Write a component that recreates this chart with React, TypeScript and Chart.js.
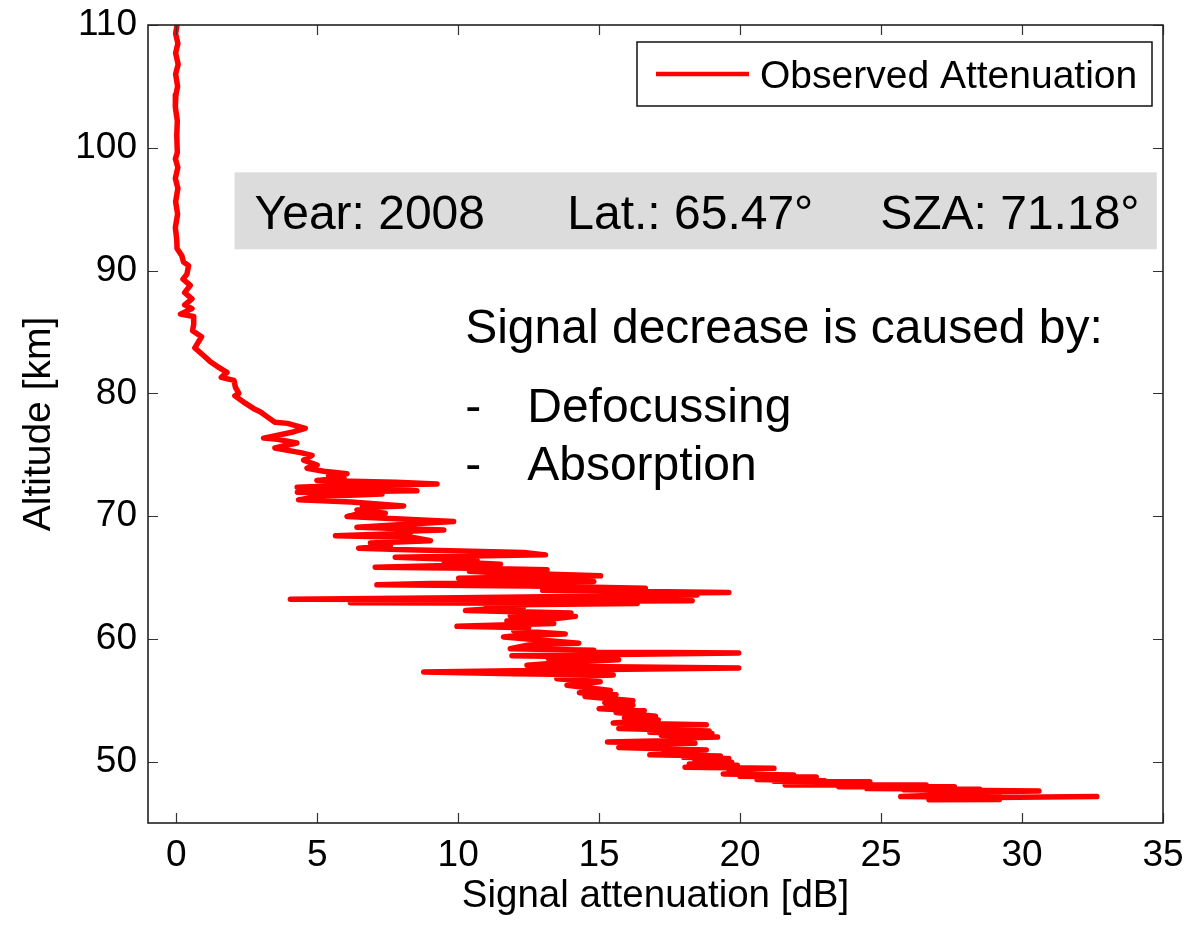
import { useEffect, useRef } from "react";
import { Chart, registerables } from "chart.js";

Chart.register(...registerables);

// ---- Data ----
const attenuation = [
  // 110 -> 86 km
  0.03, -0.02, 0.06, -0.02, 0.07, -0.02, 0.05, -0.01, -0.03, 0.04, 0.02, 0.04, -0.03, 0.06, -0.03, 0.06,
  -0.02, 0.05, -0.03, 0.02, 0.03, 0.2, 0.26, 0.44, 0.38, 0.24, 0.5, 0.3, 0.56, 0.3, 0.56, 0.15, 0.62,
  // 86 -> 74 km
  0.62, 0.58, 0.9, 0.82, 0.66, 0.96, 1.2, 1.45, 1.8, 1.6, 2.05, 2.1, 2.22, 2.08, 2.45, 2.75, 2.98, 3.22,
  3.5, 3.95, 4.58, 4.15, 3.1, 3.6, 4.28, 3.5, 4.45, 4.82, 4.52, 5.0, 4.64,
  // 74 -> 56 km
  5.23, 6.06, 5.4, 5.95, 4.99, 7.8, 9.25, 6.0, 4.29, 7.6, 8.54, 4.3, 7.3, 5.0, 4.34, 6.2, 8.07, 6.6,
  7.1, 6.41, 7.42, 6.3, 6.06, 7.6, 9.84, 8.6, 6.41, 9.49, 7.8, 8.3, 5.65, 8.4, 9.02, 6.89, 7.6, 6.47,
  8.19, 12.33, 13.1, 7.77, 10.67, 9.5, 11.5, 7.06, 10.5, 13.15, 10.4, 11.2, 15.05, 10.02, 14.81, 9.0,
  7.12, 12.5, 16.64, 13.0, 19.6, 15.0, 18.47, 10.0, 4.05, 12.0, 18.3, 8.5, 6.18, 16.35, 11.0, 12.33,
  10.26, 14.0, 11.85, 14.16, 13.39, 11.73, 13.39, 9.96, 12.5, 11.97, 13.8, 12.2, 11.61, 12.68, 14.28,
  12.5, 11.85, 14.81, 13.6, 19.95, 11.91, 15.6, 13.2, 15.69, 13.86, 12.44, 14.5, 19.95, 15.2, 8.78,
  11.97, 15.5, 14.33, 13.5, 15.04, 13.86,
  // 56 -> 47 km
  15.4, 14.3, 15.6, 14.5, 16.2, 15.2, 16.2, 15.0, 16.6, 15.6, 17.0, 15.9, 17.1, 15.5, 18.8, 16.2, 17.5,
  15.7, 18.9, 16.8, 19.0, 17.2, 19.2, 17.6, 18.2, 15.3, 18.4, 16.8, 17.6, 15.7, 18.8, 17.3, 18.6, 16.8,
  19.3, 18.0, 19.6, 18.4, 19.7, 18.2, 19.9, 18.05, 21.2, 19.6, 20.5, 19.4, 21.9, 20.0, 22.7, 20.6, 23.0,
  21.2, 24.6, 22.3, 23.6, 21.6, 26.6, 23.5, 27.6, 24.5, 28.5, 25.8, 30.6, 27.5, 29.2, 25.7, 28.5, 26.7,
  29.2, 28.0, 32.65,
];

const altitude = [
  // 110 -> 86 km
  110, 109.3, 108.5, 107.7, 106.8, 106.0, 105.0, 104.3, 103.3, 102.2, 101.0, 99.6, 99.1, 98.4, 97.5, 96.7,
  95.6, 94.6, 93.5, 92.5, 91.8, 91.2, 90.7, 90.4, 89.7, 89.3, 88.8, 88.2, 87.7, 87.2, 86.9, 86.45, 86.25,
  // 86 -> 74 km
  85.6, 85.1, 84.6, 84.3, 83.7, 83.1, 82.6, 82.2, 81.7, 81.3, 81.05, 80.5, 80.0, 79.8, 79.2, 78.75, 78.5, 78.1,
  77.65, 77.55, 77.15, 76.85, 76.35, 76.25, 75.95, 75.55, 75.15, 74.95, 74.55, 74.15, 73.9,
  // 74 -> 56 km
  73.65, 73.45, 73.3, 73.1, 72.9, 72.75, 72.62, 72.5, 72.35, 72.2, 72.06, 71.95, 71.8, 71.6, 71.32, 71.15, 70.83, 70.7,
  70.6, 70.5, 70.23, 70.1, 69.96, 69.8, 69.55, 69.4, 69.09, 68.87, 68.75, 68.6, 68.4, 68.25, 68.0, 67.8, 67.6, 67.38,
  67.25, 67.03, 66.84, 66.65, 66.4, 66.3, 66.08, 65.83, 65.75, 65.62, 65.5, 65.4, 65.13, 64.94, 64.67, 64.5,
  64.4, 64.3, 64.12, 63.95, 63.77, 63.7, 63.58, 63.35, 63.23, 63.2, 63.1, 63.0, 62.95, 62.88, 62.75, 62.63,
  62.3, 62.1, 61.9, 61.83, 61.64, 61.45, 61.25, 61.02, 60.9, 60.65, 60.4, 60.3, 60.15, 59.95, 59.65,
  59.5, 59.2, 59.07, 58.95, 58.85, 58.63, 58.5, 58.4, 58.3, 58.1, 57.85, 57.75, 57.62, 57.5, 57.3,
  57.15, 57.05, 56.95, 56.75, 56.5, 56.22,
  // 56 -> 47 km
  55.8, 55.6, 55.45, 55.3, 54.95, 54.8, 54.6, 54.3, 54.15, 54.0, 53.7, 53.55, 53.4, 53.15, 53.0, 52.9, 52.8,
  52.7, 52.5, 52.4, 52.3, 52.15, 52.0, 51.9, 51.75, 51.6, 51.5, 51.35, 51.25, 51.15, 50.95, 50.85, 50.7, 50.55,
  50.45, 50.35, 50.25, 50.1, 49.95, 49.8, 49.7, 49.55, 49.45, 49.3, 49.15, 49.0, 48.9, 48.8, 48.75, 48.55, 48.45,
  48.4, 48.35, 48.25, 48.2, 48.1, 48.1, 47.95, 47.95, 47.8, 47.75, 47.7, 47.6, 47.5, 47.45, 47.15, 47.1, 46.9,
  46.92, 47.05, 47.15,
];

const xTickValues = [0, 5, 10, 15, 20, 25, 30, 35];
const yTickValues = [50, 60, 70, 80, 90, 100, 110];

const seriesLabel = "Observed Attenuation";
const xTitle = "Signal attenuation [dB]";
const yTitle = "Altitude [km]";
const infoTexts = ["Year: 2008", "Lat.: 65.47°", "SZA: 71.18°"];
const causeTitle = "Signal decrease is caused by:";
const causeItems = ["Defocussing", "Absorption"];

// ---- Layout / style (positions in data units, like MATLAB text) ----
const FONT = '"Liberation Sans", Arial, Helvetica, sans-serif';
const X_RANGE = [-1, 35];
const Y_RANGE = [45, 110];
const infoBox = { x0: 2.07, x1: 34.78, top: 98.0, bottom: 91.73 };
const infoTextX = [2.78, 13.87, 24.97];
const infoBaseline = 93.36;
const causeX = 10.25;
const causeItemX = 12.45;
const causeBaselines = [84.06, 77.67, 72.95];

const overlayPlugin = {
  id: "overlay",
  afterDatasetsDraw(chart: any) {
    const { ctx, scales } = chart;
    const px = (v: number) => scales.x.getPixelForValue(v);
    const py = (v: number) => scales.y.getPixelForValue(v);
    ctx.save();
    ctx.fillStyle = "#dcdcdc";
    const bx0 = px(infoBox.x0), bx1 = px(infoBox.x1);
    const by0 = py(infoBox.top), by1 = py(infoBox.bottom);
    ctx.fillRect(bx0, by0, bx1 - bx0, by1 - by0);
    ctx.fillStyle = "#000";
    ctx.textAlign = "left";
    ctx.textBaseline = "alphabetic";
    ctx.font = `48px ${FONT}`;
    infoTexts.forEach((t, i) => ctx.fillText(t, px(infoTextX[i]), py(infoBaseline)));
    ctx.fillText(causeTitle, px(causeX), py(causeBaselines[0]));
    causeItems.forEach((t, i) => {
      ctx.fillText("-", px(causeX), py(causeBaselines[i + 1]));
      ctx.fillText(t, px(causeItemX), py(causeBaselines[i + 1]));
    });
    ctx.restore();
  },
  afterDraw(chart: any) {
    const { ctx, chartArea: a, scales } = chart;
    ctx.save();
    ctx.strokeStyle = "#333";
    ctx.lineWidth = 1.2;
    const TL = 10;
    ctx.beginPath();
    xTickValues.forEach((v) => {
      const x = Math.round(scales.x.getPixelForValue(v)) + 0.5;
      ctx.moveTo(x, a.bottom);
      ctx.lineTo(x, a.bottom - TL);
      ctx.moveTo(x, a.top);
      ctx.lineTo(x, a.top + TL);
    });
    yTickValues.forEach((v) => {
      const y = Math.round(scales.y.getPixelForValue(v)) + 0.5;
      ctx.moveTo(a.left, y);
      ctx.lineTo(a.left + TL, y);
      ctx.moveTo(a.right, y);
      ctx.lineTo(a.right - TL, y);
    });
    ctx.stroke();
    ctx.strokeStyle = "#222";
    ctx.lineWidth = 1.6;
    ctx.strokeRect(a.left, a.top, a.right - a.left, a.bottom - a.top);

    // legend
    const lw = 515, lh = 64;
    const lx = a.right - 11 - lw;
    const ly = a.top + 17;
    ctx.fillStyle = "#fff";
    ctx.fillRect(lx, ly, lw, lh);
    ctx.strokeStyle = "#111";
    ctx.lineWidth = 1.5;
    ctx.strokeRect(lx, ly, lw, lh);
    const cy = ly + lh / 2;
    ctx.strokeStyle = "#ff0000";
    ctx.lineWidth = 4.5;
    ctx.beginPath();
    ctx.moveTo(lx + 19, cy);
    ctx.lineTo(lx + 112, cy);
    ctx.stroke();
    ctx.fillStyle = "#000";
    ctx.font = `39px ${FONT}`;
    ctx.textAlign = "left";
    ctx.textBaseline = "alphabetic";
    ctx.fillText(seriesLabel, lx + 123, cy + 14);

    // axis titles
    ctx.font = `38.5px ${FONT}`;
    ctx.textAlign = "center";
    ctx.fillText(xTitle, (a.left + a.right) / 2, 907);
    ctx.save();
    ctx.translate(50, (a.top + a.bottom) / 2);
    ctx.rotate(-Math.PI / 2);
    ctx.font = `39px ${FONT}`;
    ctx.fillText(yTitle, 0, 0);
    ctx.restore();
    ctx.restore();
  },
};

export default function App() {
  const ref = useRef<HTMLCanvasElement | null>(null);
  useEffect(() => {
    document.body.style.margin = "0";
    const canvas = ref.current;
    if (!canvas) return;
    const points = attenuation.map((x, i) => ({ x, y: altitude[i] }));
    const chart = new Chart(canvas, {
      type: "scatter",
      data: {
        datasets: [
          {
            label: seriesLabel,
            data: points,
            showLine: true,
            borderColor: "#ff0000",
            backgroundColor: "#ff0000",
            borderWidth: 5.5,
            pointRadius: 0,
            pointHoverRadius: 0,
            tension: 0,
            borderJoinStyle: "round",
            borderCapStyle: "round",
            fill: false,
          } as any,
        ],
      },
      options: {
        responsive: false,
        animation: false,
        devicePixelRatio: 1,
        events: [],
        layout: { padding: { left: 0, top: 25, right: 37, bottom: 0 } },
        plugins: {
          legend: { display: false },
          tooltip: { enabled: false },
          title: { display: false },
        },
        scales: {
          x: {
            type: "linear",
            min: X_RANGE[0],
            max: X_RANGE[1],
            grid: { display: false, drawTicks: false },
            border: { display: false },
            ticks: {
              color: "#000",
              font: { family: FONT, size: 37 },
              padding: 11,
              maxRotation: 0,
              autoSkip: false,
            },
            afterBuildTicks: (s: any) => {
              s.ticks = xTickValues.map((v) => ({ value: v }));
            },
            afterFit: (s: any) => {
              s.height = 102;
              s.paddingLeft = 0;
              s.paddingRight = 0;
            },
          },
          y: {
            type: "linear",
            min: Y_RANGE[0],
            max: Y_RANGE[1],
            grid: { display: false, drawTicks: false },
            border: { display: false },
            ticks: {
              color: "#000",
              font: { family: FONT, size: 37 },
              padding: 11,
              autoSkip: false,
            },
            afterBuildTicks: (s: any) => {
              s.ticks = yTickValues.map((v) => ({ value: v }));
            },
            afterFit: (s: any) => {
              s.width = 148;
              s.paddingTop = 0;
              s.paddingBottom = 0;
            },
          },
        },
      } as any,
      plugins: [overlayPlugin],
    });
    return () => chart.destroy();
  }, []);
  return (
    <div style={{ width: 1200, height: 925, background: "#fff" }}>
      <canvas ref={ref} width={1200} height={925} style={{ display: "block" }} />
    </div>
  );
}
